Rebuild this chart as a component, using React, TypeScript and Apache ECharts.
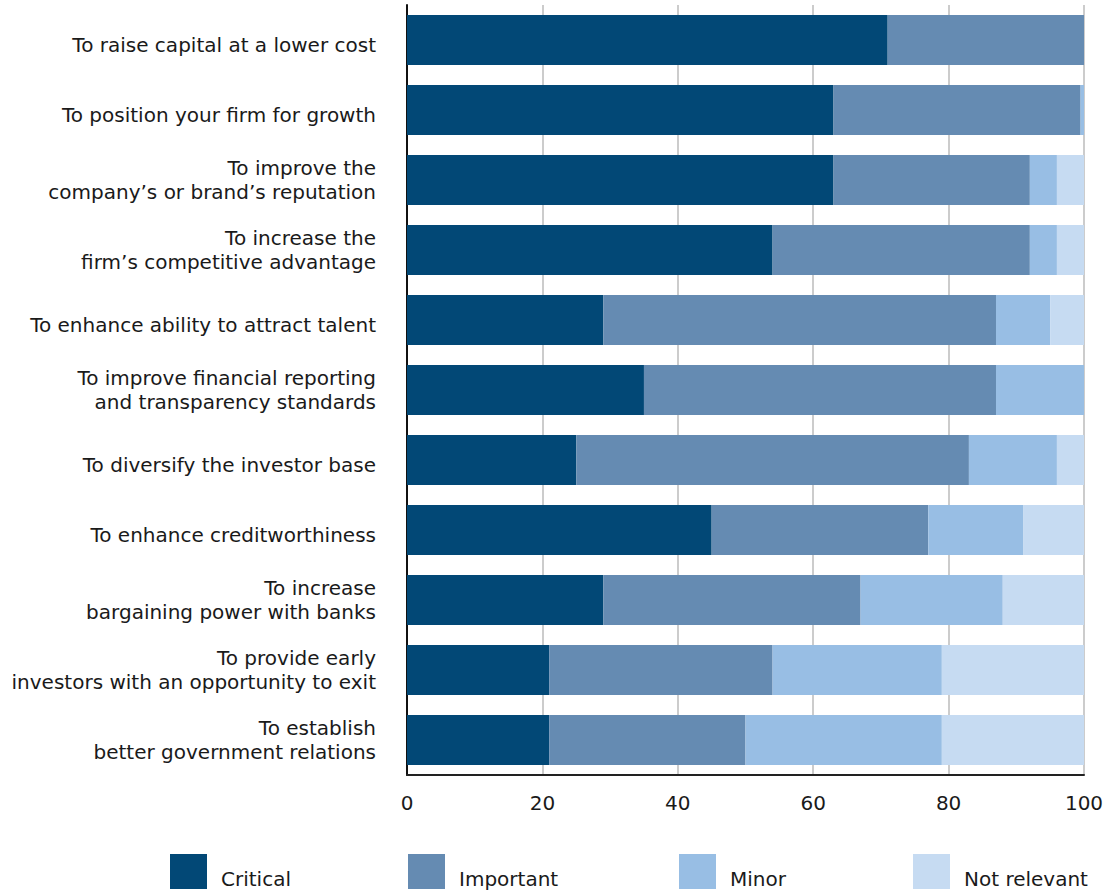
import React, { useEffect, useRef } from "react";
import * as echarts from "echarts";

const categories = [
  "To raise capital at a lower cost",
  "To position your firm for growth",
  "To improve the\ncompany’s or brand’s reputation",
  "To increase the\nfirm’s competitive advantage",
  "To enhance ability to attract talent",
  "To improve financial reporting\nand transparency standards",
  "To diversify the investor base",
  "To enhance creditworthiness",
  "To increase\nbargaining power with banks",
  "To provide early\ninvestors with an opportunity to exit",
  "To establish\nbetter government relations",
];

const critical = [71, 63, 63, 54, 29, 35, 25, 45, 29, 21, 21];
const important = [29, 36.5, 29, 38, 58, 52, 58, 32, 38, 33, 29];
const minor = [0, 0.5, 4, 4, 8, 13, 13, 14, 21, 25, 29];
const notRelevant = [0, 0, 4, 4, 5, 0, 4, 9, 12, 21, 21];

const seriesNames = ["Critical", "Important", "Minor", "Not relevant"];
const colors = ["#024876", "#658bb2", "#98bee4", "#c6dbf2"];
const xTicks = [0, 20, 40, 60, 80, 100];

const legendX = [170, 408, 679, 913];

export default function App() {
  const ref = useRef<HTMLDivElement>(null);
  useEffect(() => {
    if (!ref.current) return;
    const chart = echarts.init(ref.current, undefined, { renderer: "svg" });
    const font = "'DejaVu Sans', sans-serif";
    const data = [critical, important, minor, notRelevant];
    const legendGraphics: any[] = [];
    seriesNames.forEach((name, i) => {
      legendGraphics.push({
        type: "rect",
        shape: { x: legendX[i], y: 854, width: 37, height: 35 },
        style: { fill: colors[i] },
      });
      legendGraphics.push({
        type: "text",
        x: legendX[i] + 51,
        y: 879,
        style: {
          text: name,
          fill: "#1a1a1a",
          font: `20px ${font}`,
          verticalAlign: "middle",
          align: "left",
        },
      });
    });
    chart.setOption({
      animation: false,
      textStyle: { fontFamily: font },
      grid: { left: 407, right: 28, top: 5, bottom: 117, containLabel: false },
      graphic: legendGraphics,
      xAxis: {
        type: "value",
        min: xTicks[0],
        max: xTicks[xTicks.length - 1],
        interval: 20,
        axisLine: { show: true, lineStyle: { color: "#222", width: 2 } },
        axisTick: { show: false },
        axisLabel: { fontSize: 20, color: "#1a1a1a", margin: 18, fontFamily: font },
        splitLine: { show: true, lineStyle: { color: "#cccccc", width: 2 } },
      },
      yAxis: {
        type: "category",
        inverse: true,
        data: categories,
        axisLine: { show: true, lineStyle: { color: "#111", width: 2 } },
        axisTick: { show: false },
        axisLabel: {
          fontSize: 20,
          color: "#1a1a1a",
          margin: 31,
          lineHeight: 24,
          align: "right",
          fontFamily: font,
          formatter: (v: string) => (v.indexOf("\n") >= 0 ? v : `{s|${v}}`),
          rich: {
            s: {
              fontSize: 20,
              color: "#1a1a1a",
              fontFamily: font,
              lineHeight: 24,
              padding: [10, 0, 0, 0],
            },
          },
        },
      },
      series: seriesNames.map((name, i) => ({
        name,
        type: "bar",
        stack: "total",
        barWidth: 50,
        itemStyle: { color: colors[i] },
        data: data[i],
      })),
    });
    return () => chart.dispose();
  }, []);
  return (
    <div
      ref={ref}
      style={{ position: "absolute", left: 0, top: 0, width: 1112, height: 892 }}
    />
  );
}
